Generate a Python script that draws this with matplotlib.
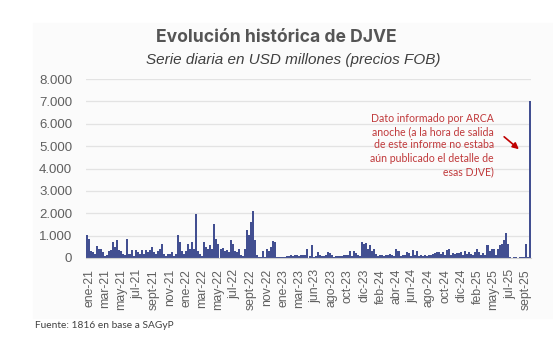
import matplotlib.pyplot as plt
from matplotlib.patches import Rectangle

# daily DJVE values (USD millones) at ~2 px resolution
valores = [
    1050, 860, 300, 250, 160, 530, 420, 400,
    250, 110, 120, 300, 340, 700, 480, 810,
    340, 300, 160, 140, 860, 190, 340, 110,
    340, 260, 190, 340, 200, 340, 260, 340,
    500, 260, 200, 300, 420, 640, 180, 110,
    160, 200, 260, 110, 160, 1010, 700, 330,
    160, 300, 640, 410, 710, 400, 1970, 300,
    180, 110, 710, 480, 400, 560, 410, 1520,
    860, 640, 380, 450, 300, 350, 280, 790,
    640, 300, 250, 410, 150, 100, 410, 1240,
    1010, 1620, 2100, 790, 120, 40, 30, 330,
    40, 410, 330, 480, 740, 710, 30, 30,
    40, 30, 50, 80, 100, 130, 110, 150,
    120, 100, 150, 130, 140, 400, 110, 560,
    60, 100, 260, 150, 100, 80, 120, 260,
    220, 150, 60, 100, 80, 110, 100, 150,
    130, 120, 300, 100, 330, 220, 150, 100,
    710, 640, 670, 410, 560, 330, 410, 200,
    100, 150, 130, 100, 150, 120, 200, 150,
    100, 410, 330, 100, 150, 130, 260, 220,
    100, 360, 130, 330, 100, 150, 100, 130,
    100, 150, 130, 200, 220, 250, 260, 200,
    250, 150, 360, 410, 150, 220, 200, 220,
    220, 250, 150, 330, 200, 250, 200, 150,
    250, 410, 250, 150, 220, 150, 560, 330,
    410, 380, 120, 410, 560, 640, 790, 1100,
    640, 40, 20, 40, 30, 20, 40, 30,
    30, 640, 30, 7000,
]

etiquetas = ["ene-21", "mar-21", "may-21", "jul-21", "sept-21", "nov-21",
             "ene-22", "mar-22", "may-22", "jul-22", "sept-22", "nov-22",
             "ene-23", "mar-23", "jun-23", "ago-23", "oct-23", "dic-23",
             "feb-24", "abr-24", "jun-24", "ago-24", "oct-24", "dic-24",
             "feb-25", "may-25", "jul-25", "sept-25"]

yticks = [0, 1000, 2000, 3000, 4000, 5000, 6000, 7000, 8000]

gris = "#5f5f5f"
rojo = "#c0393b"

fig = plt.figure(figsize=(5.53, 3.51), dpi=100)

# light panel behind the chart
fig.patches.append(Rectangle((33 / 553, 1 - 318 / 351), 520 / 553, 295 / 351,
                             transform=fig.transFigure, color="#fbfbfb",
                             zorder=-5))

ax = fig.add_axes([86 / 553, 1 - 258 / 351, 445 / 553, 179 / 351])
ax.set_facecolor("none")

x = list(range(len(valores)))
ax.bar(x, valores, width=1.0, color="#424f91", linewidth=0)

ax.set_xlim(-0.5, len(valores) - 0.5)
ax.set_ylim(0, 8000)
ax.set_yticks(yticks)
ax.set_yticklabels([f"{v:,}".replace(",", ".") for v in yticks],
                   fontsize=9.5, color=gris, family="Liberation Sans")
ax.set_xticks([1 + 8 * k for k in range(len(etiquetas))])
ax.set_xticklabels(etiquetas, rotation=90, fontsize=8.8, color=gris,
                   family="Liberation Sans")
ax.tick_params(axis="y", length=0, pad=10)
ax.tick_params(axis="x", length=0, pad=8)
ax.grid(True, axis="y", color="#e3e3e3", linewidth=0.9)
ax.set_axisbelow(True)
for s in ["top", "right", "left"]:
    ax.spines[s].set_visible(False)
ax.spines["bottom"].set_color("#d0d0d0")

fig.text(276 / 553, 1 - 38 / 351, "Evolución histórica de DJVE",
         ha="center", va="center", fontsize=12.6, fontweight="bold",
         color="#555555", family="Inter")
fig.text(293 / 553, 1 - 60 / 351, "Serie diaria en USD millones (precios FOB)",
         ha="center", va="center", fontsize=11, style="italic",
         color="#404040", family="Liberation Sans")

ax.text(494 / 553, 1 - 113 / 351,
        "Dato informado por ARCA\nanoche (a la hora de salida\n"
        "de este informe no estaba\naún publicado el detalle de\nesas DJVE)",
        transform=fig.transFigure, ha="right", va="top", fontsize=7.6,
        color=rojo, family="Lato", linespacing=1.25)
ax.annotate("", xy=(521 / 553, 1 - 151 / 351), xytext=(502 / 553, 1 - 135 / 351),
            xycoords="figure fraction", textcoords="figure fraction",
            arrowprops=dict(arrowstyle="-|>", color="#c00000", lw=1.2,
                            mutation_scale=9))

fig.text(35 / 553, 1 - 326 / 351, "Fuente: 1816 en base a SAGyP",
         ha="left", va="center", fontsize=7.3, color="#404040", family="Lato")

fig.savefig("out.png", dpi=100)
